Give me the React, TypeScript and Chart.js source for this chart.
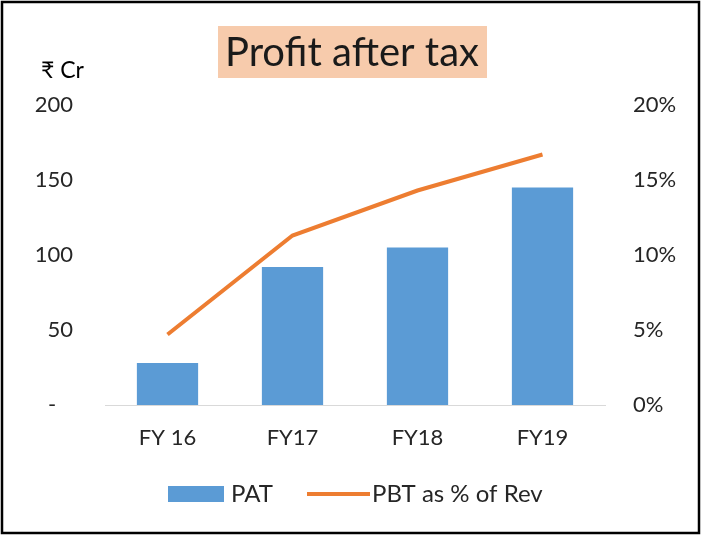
import React, { useEffect, useRef } from "react";
import { Chart, registerables } from "chart.js";

Chart.register(...registerables);

const categories = ["FY 16", "FY17", "FY18", "FY19"];
const patValues = [28, 92, 105, 145];
const pbtPctValues = [4.7, 11.3, 14.3, 16.7];
const titleText = "Profit after tax";
const unitText = "₹ Cr";
const legendLabels = ["PAT", "PBT as % of Rev"];

const BAR_COLOR = "#5B9BD5";
const LINE_COLOR = "#ED7D31";
const TEXT_COLOR = "#262626";
const FONT = "Lato, 'Open Sans', sans-serif";

const decorPlugin = {
  id: "decor",
  afterDraw(chart: any) {
    const ctx = chart.ctx as CanvasRenderingContext2D;
    ctx.save();
    // outer border
    ctx.strokeStyle = "#000";
    ctx.lineWidth = 2.5;
    ctx.strokeRect(2, 2, 697, 531);
    // title box
    ctx.fillStyle = "#F7CBAC";
    ctx.fillRect(218, 26, 269, 52);
    ctx.fillStyle = "#1a1a1a";
    ctx.font = `40px ${FONT}`;
    ctx.textAlign = "center";
    ctx.textBaseline = "middle";
    ctx.fillText(titleText, 352, 53);
    // unit
    ctx.font = `23px ${FONT}`;
    ctx.textAlign = "left";
    ctx.fillStyle = "#000";
    ctx.fillText(unitText, 41, 71);
    // legend
    const ly = 494;
    ctx.fillStyle = BAR_COLOR;
    ctx.fillRect(168, ly - 8, 56, 16);
    ctx.fillStyle = TEXT_COLOR;
    ctx.font = `24px ${FONT}`;
    ctx.textBaseline = "middle";
    ctx.fillText(legendLabels[0], 231, ly);
    ctx.strokeStyle = LINE_COLOR;
    ctx.lineWidth = 4;
    ctx.beginPath();
    ctx.moveTo(307, ly);
    ctx.lineTo(370, ly);
    ctx.stroke();
    ctx.fillText(legendLabels[1], 372, ly);
    ctx.restore();
  },
};

export default function App() {
  const ref = useRef<HTMLCanvasElement | null>(null);
  useEffect(() => {
    if (!ref.current) return;
    const chart = new Chart(ref.current, {
      type: "bar",
      data: {
        labels: categories,
        datasets: [
          {
            type: "line",
            label: legendLabels[1],
            data: pbtPctValues,
            borderColor: LINE_COLOR,
            backgroundColor: LINE_COLOR,
            borderWidth: 4,
            pointRadius: 0,
            tension: 0,
            yAxisID: "y1",
            order: 0,
          },
          {
            type: "bar",
            label: legendLabels[0],
            data: patValues,
            backgroundColor: BAR_COLOR,
            categoryPercentage: 0.98,
            barPercentage: 0.5,
            yAxisID: "y",
            order: 1,
          },
        ],
      },
      options: {
        responsive: false,
        animation: false,
        layout: { padding: { top: 105, left: 0, right: 0, bottom: 0 } },
        plugins: {
          legend: { display: false },
          title: { display: false },
          tooltip: { enabled: false },
        },
        scales: {
          x: {
            grid: { display: false, drawTicks: false },
            border: { display: true, color: "#D9D9D9", width: 1 },
            ticks: {
              color: TEXT_COLOR,
              font: { family: FONT, size: 22 },
              padding: 20,
            },
            afterFit(scale: any) {
              scale.height = 130;
            },
          },
          y: {
            position: "left",
            min: 0,
            max: 200,
            grid: { display: false, drawTicks: false },
            border: { display: false },
            ticks: {
              stepSize: 50,
              color: TEXT_COLOR,
              font: { family: FONT, size: 22 },
              padding: 32,
              callback: (v: any) => (Number(v) === 0 ? "-   " : String(v)),
            },
            afterFit(scale: any) {
              scale.width = 105;
            },
          },
          y1: {
            position: "right",
            min: 0,
            max: 20,
            grid: { display: false, drawTicks: false },
            border: { display: false },
            ticks: {
              stepSize: 5,
              color: TEXT_COLOR,
              font: { family: FONT, size: 22 },
              padding: 28,
              callback: (v: any) => `${v}%`,
            },
            afterFit(scale: any) {
              scale.width = 96;
            },
          },
        },
      },
      plugins: [decorPlugin],
    });
    return () => chart.destroy();
  }, []);
  return (
    <div style={{ position: "absolute", left: 0, top: 0, width: 701, height: 535, background: "#fff" }}>
      <canvas ref={ref} width={701} height={535} />
    </div>
  );
}
